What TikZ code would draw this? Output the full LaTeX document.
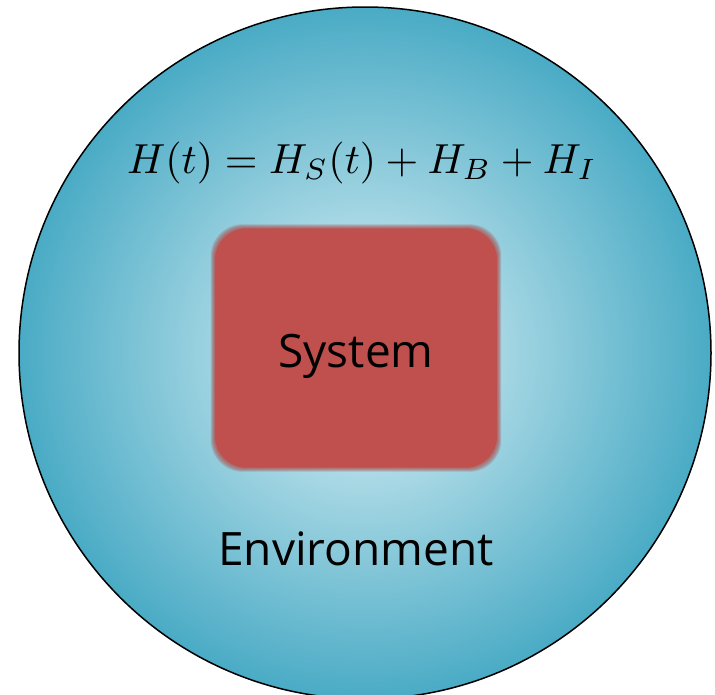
\documentclass[tikz,border=0pt]{standalone}
\usepackage{fontspec}
\setsansfont{Open Sans}
\definecolor{envteal}{HTML}{4AABC5}
\definecolor{envlight}{HTML}{C8E7EF}
\definecolor{sysred}{HTML}{C0504D}
\pgfdeclareradialshading{envglow}{\pgfpoint{0bp}{0bp}}{color(0bp)=(envlight); color(4bp)=(envlight); color(25bp)=(envteal); color(50bp)=(envteal)}
\tikzset{
  sysbox/.style={rounded corners=32pt, minimum width=282pt, minimum height=239pt, inner sep=0pt},
  bigtext/.style={font=\sffamily\fontsize{46}{50}\selectfont},
}

\begin{document}
\begin{tikzpicture}[x=1pt,y=-1pt]
\useasboundingbox (0,0) rectangle (715,694);
\shade[shading=envglow] (365,353) circle (346);
\draw[line width=1.5pt] (365,353) circle (346);
\node[scale=4.2] (eqn) at (362,163) {$H(t)=H_S(t)+H_B+H_I$};
\node[sysbox] (system) at (356,348) {};
% blurred edge
\foreach \d in {1,...,4}
  \fill[sysred!90!black, opacity=0.25, rounded corners=32pt] ([xshift=-\d pt,yshift=\d pt]system.north west) rectangle ([xshift=\d pt,yshift=-\d pt]system.south east);
\fill[sysred, rounded corners=32pt] (system.north west) rectangle (system.south east);
\node[bigtext] at ([yshift=-8pt]system.center) {System};
\node[bigtext] (env) at (356,549) {Environment};
\end{tikzpicture}
\end{document}
